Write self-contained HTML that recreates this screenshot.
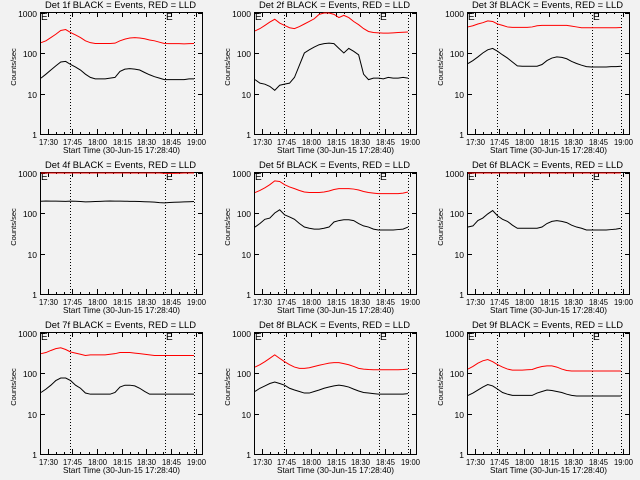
<!DOCTYPE html>
<html><head><meta charset="utf-8"><style>
body{margin:0;background:#f2f2f2;}
svg{display:block;font-family:"Liberation Sans",sans-serif;}
</style></head><body>
<svg id="c" width="640" height="480" viewBox="0 0 640 480">
<rect width="640" height="480" fill="#f2f2f2"/>
</svg>
<script>
// time grid: minutes after 17:26, every 3 minutes
const sampleMinutes = [0,3,6,9,12,15,18,21,24,27,30,33,36,39,42,45,48,51,54,57,60,63,66,69,72,75,78,81,84,87,90,93];
const tickLabels = ["17:30","17:45","18:00","18:15","18:30","18:45","19:00"];
const tickMinutes = [4,19,34,49,64,79,94];
const yTickValues = [1,10,100,1000];
const yTickLabels = ["1","10","100","1000"];
const detNames = ["1f","2f","3f","4f","5f","6f","7f","8f","9f"];
const black1 = [24,30,38,48,60,62,52,45,38,30,25,23,23,23,24,25,35,40,41,40,38,33,29,26,24,22,22,22,22,22,23,23];
const red1 = [180,200,240,290,360,380,320,280,240,200,180,172,172,172,172,175,200,220,235,240,235,225,210,200,185,172,170,170,170,168,170,172];
const black2 = [22,18,17,15,12,16,17,18,25,50,100,120,140,160,170,175,170,130,100,130,110,90,30,22,24,24,23,25,24,24,25,24];
const red2 = [350,400,480,580,680,550,480,420,400,450,520,600,700,900,1000,1000,900,750,850,750,600,500,400,340,320,315,310,310,315,320,325,330];
const black3 = [55,65,80,100,120,130,110,90,75,60,48,47,47,47,47,52,65,75,80,78,72,62,55,50,46,45,45,45,45,46,46,47];
const red3 = [440,470,520,560,620,600,520,480,440,430,430,430,430,440,470,480,480,480,480,480,480,460,440,420,420,420,420,420,420,420,420,425];
const black4 = [195,198,196,197,195,194,196,195,192,188,190,192,194,196,198,197,196,195,194,193,192,190,188,185,180,178,182,184,186,188,190,192];
const red4 = [1050,1060,1060,1060,1055,1050,1040,1030,1010,1000,1000,1000,1000,1040,1040,1040,1040,1040,1000,990,990,990,990,990,970,950,950,950,960,980,980,980];
const black5 = [45,55,70,75,100,120,90,80,70,55,45,42,40,40,42,45,60,65,68,68,65,55,48,45,40,38,38,38,38,39,40,45];
const red5 = [320,360,420,500,620,600,500,440,400,360,330,320,320,320,330,350,380,400,400,400,390,370,340,320,310,300,300,300,300,300,310,330];
const black6 = [45,48,65,75,95,115,85,70,62,50,42,42,42,42,42,45,55,62,65,62,58,50,45,42,38,38,38,38,38,39,40,42];
const red6 = [1050,1060,1060,1060,1060,1060,1050,1020,1000,980,980,980,980,985,990,990,990,990,990,985,980,980,980,980,975,975,975,975,975,975,975,975];
const black7 = [33,40,50,65,75,75,65,50,42,32,30,30,30,30,30,33,45,50,50,48,42,35,30,30,30,30,30,30,30,30,30,30];
const red7 = [300,320,360,400,420,380,330,310,290,270,280,280,280,280,290,300,320,320,320,310,300,290,280,270,270,270,270,270,270,270,270,270];
const black8 = [35,42,48,55,60,55,50,42,38,35,32,32,35,38,42,45,48,50,48,45,40,36,33,32,31,30,30,30,30,30,30,31];
const red8 = [140,160,190,230,280,230,190,160,140,130,130,135,145,155,165,175,180,180,170,160,145,130,125,122,120,120,120,120,120,120,122,125];
const black9 = [28,32,38,45,52,48,40,33,30,28,28,28,28,28,32,35,38,37,35,33,30,28,27,27,27,27,27,27,27,27,27,27];
const red9 = [125,145,175,200,215,190,160,140,125,118,118,118,120,122,135,145,150,150,140,125,115,112,112,112,112,112,112,112,112,112,112,112];
const blackSeries = [black1,black2,black3,black4,black5,black6,black7,black8,black9];
const redSeries = [red1,red2,red3,red4,red5,red6,red7,red8,red9];
const markerMinutes = [17.5,75.5,93.3];

const NS="http://www.w3.org/2000/svg";
const svg=document.getElementById('c');
const lefts=[40,254,467], tops=[12,172,332];
const W=162,H=122;
function mk(tag,attrs,parent){const e=document.createElementNS(NS,tag);for(const k in attrs)e.setAttribute(k,attrs[k]);(parent||svg).appendChild(e);return e;}

for(let p=0;p<9;p++){
  const L=lefts[p%3],T=tops[Math.floor(p/3)],B=T+H;
  const g=mk('g',{});
  
  
  const xs=m=>L+1+m*1.645;
  const ys=v=>B-Math.log10(v)*40.5;
  const box=mk('rect',{x:L+0.5,y:T+0.5,width:W,height:H,fill:'none',stroke:'#000','stroke-width':1},g);
  
  
  const title=mk('text',{x:L+5,y:T-4,'font-size':9.5,textLength:151,lengthAdjust:'spacingAndGlyphs'},g);
  title.textContent='Det '+detNames[p]+' BLACK = Events, RED = LLD';
  
  
  // y ticks
  yTickValues.forEach((v,i)=>{
    const y=Math.round(ys(v))+0.5;
    mk('line',{x1:L,x2:L+5,y1:y,y2:y,stroke:'#000'},g);
    mk('line',{x1:L+W-4,x2:L+W+1,y1:y,y2:y,stroke:'#000'},g);
    const t=mk('text',{x:L-3,y:y+3.5,'text-anchor':'end','font-size':8.5},g);
    t.textContent=yTickLabels[i];
    
    
  });
  const yl=mk('text',{x:0,y:0,'text-anchor':'middle','font-size':7.5,transform:`translate(${L-24},${T+H/2-6}) rotate(-90)`},g);
  yl.textContent='Counts/sec';
  
  
  // x ticks
  tickMinutes.forEach((m,i)=>{
    const x=Math.round(xs(m))+0.5;
    mk('line',{x1:x,x2:x,y1:B,y2:B-5,stroke:'#000'},g);
    mk('line',{x1:x,x2:x,y1:T,y2:T+5,stroke:'#000'},g);
    const t=mk('text',{x:x-9.5,y:B+11,'font-size':8.5,textLength:19,lengthAdjust:'spacingAndGlyphs'},g);
    t.textContent=tickLabels[i];
    
    
  });
  for(let m=-1;m<=99;m+=5){const x=Math.round(xs(m))+0.5;if(x<=L||x>=L+W)continue;
    mk('line',{x1:x,x2:x,y1:B,y2:B-2,stroke:'#000'},g);mk('line',{x1:x,x2:x,y1:T,y2:T+2,stroke:'#000'},g);}
  const xl=mk('text',{x:L+23,y:B+19,'font-size':8.5,textLength:117,lengthAdjust:'spacingAndGlyphs'},g);
  xl.textContent='Start Time (30-Jun-15 17:28:40)';
  
  
  // dotted markers
  markerMinutes.forEach(m=>{
    const x=Math.round(xs(m))+0.5;
    const l=mk('line',{x1:x,x2:x,y1:T,y2:B,stroke:'#000','stroke-dasharray':'1,2'},g);
    
    
  });
  [L+1,Math.round(xs(markerMinutes[1]))+1].forEach(x=>{
    const e=mk('text',{x:x,y:T+8,'font-size':10},g);
    e.textContent='E';
    
    
  });
  // series
  const clip=v=>Math.max(T+1,ys(v));
  const red=mk('polyline',{points:redSeries[p].map((v,i)=>xs(sampleMinutes[i])+','+clip(v)).join(' '),fill:'none',stroke:'#ff0000','stroke-width':1},g);
  
  
  const blk=mk('polyline',{points:blackSeries[p].map((v,i)=>xs(sampleMinutes[i])+','+clip(v)).join(' '),fill:'none',stroke:'#000','stroke-width':1},g);
  
  
}
</script>
</body></html>
